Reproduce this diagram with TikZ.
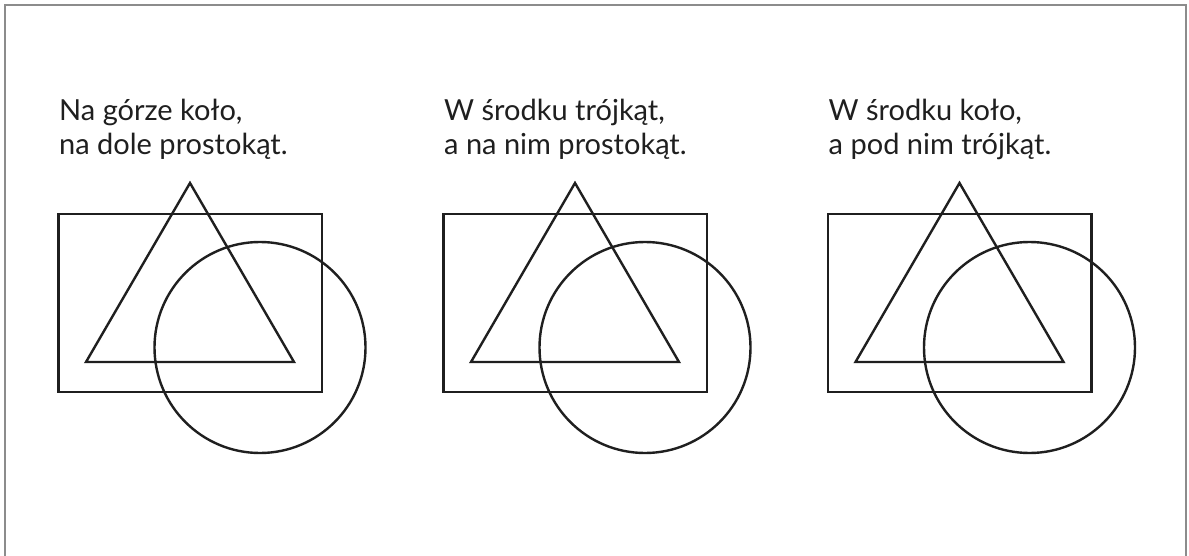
\documentclass[tikz,border=0pt]{standalone}
\usepackage{fontspec}
\setmainfont{Lato}
\begin{document}
\begin{tikzpicture}[x=1pt,y=-1pt,
  figline/.style={line width=2.4pt, draw=black!88, line join=miter},
  frameline/.style={line width=2pt, draw=black!45},
  caption/.style={anchor=base west, inner sep=0pt, text=black!88, font=\fontsize{29}{34}\selectfont}]
\useasboundingbox (0,0) rectangle (1189,556);
\fill[white] (0,0) rectangle (1189,556);
\draw[frameline] (5,560) -- (5,5) -- (1186,5) -- (1186,560);
\foreach \dx/\la/\lb/\n in {0/{Na górze koło,}/{na dole prostokąt.}/1,
                            385/{W środku trójkąt,}/{a na nim prostokąt.}/2,
                            769.5/{W środku koło,}/{a pod nim trójkąt.}/3}{
  \begin{scope}[xshift=\dx]
    \node[caption] (l\n a) at (59,121) {\la};
    \node[caption] (l\n b) at (59,155) {\lb};
    \draw[figline] (58.5,214) rectangle (322,392);
    \draw[figline] (86,362) -- (190,183) -- (294,362) -- cycle;
    \draw[figline] (260,347.5) circle[radius=105.5];
  \end{scope}
}
\end{tikzpicture}
\end{document}
